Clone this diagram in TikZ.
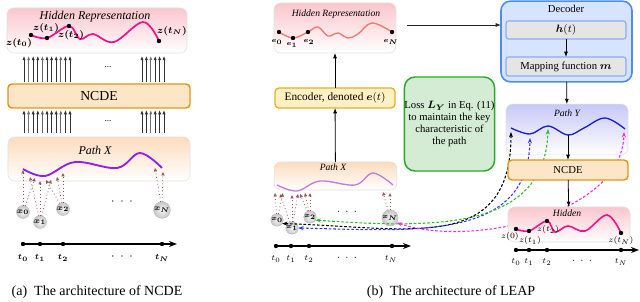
\documentclass[tikz,border=0pt]{standalone}
\usepackage{amsmath}
\usepackage{fontspec}
\setmainfont{Liberation Serif}
\usetikzlibrary{arrows.meta}

\definecolor{hotpink}{RGB}{238,20,140}
\definecolor{pinktop}{RGB}{250,198,205}
\definecolor{peachtop}{RGB}{252,220,190}
\definecolor{lavtop}{RGB}{200,200,248}
\definecolor{violetc}{RGB}{150,30,230}
\definecolor{lilac}{RGB}{195,125,220}
\definecolor{salmonc}{RGB}{240,120,110}
\definecolor{ncdefill}{RGB}{253,229,199}
\definecolor{ncdedraw}{RGB}{225,150,25}
\definecolor{encfill}{RGB}{255,241,195}
\definecolor{encdraw}{RGB}{225,175,45}
\definecolor{decfill}{RGB}{214,228,255}
\definecolor{decdraw}{RGB}{80,140,240}
\definecolor{indraw}{RGB}{135,175,240}
\definecolor{greenfill}{RGB}{212,236,212}
\definecolor{greendraw}{RGB}{40,170,40}
\definecolor{brownc}{RGB}{150,85,85}
\definecolor{pathblue}{RGB}{30,30,200}
\definecolor{dblue}{RGB}{50,50,230}
\definecolor{dgreen}{RGB}{40,190,40}
\definecolor{dmag}{RGB}{240,40,240}

\begin{document}
\begin{tikzpicture}[x=0.75pt,y=-0.75pt,
  every node/.style={inner sep=0pt, outer sep=0pt},
  softbox/.style={rounded corners=5pt, draw=black!12, line width=0.4pt},
  pinkbox/.style={softbox, top color=pinktop, bottom color=white},
  peachbox/.style={softbox, top color=peachtop, bottom color=white},
  lavbox/.style={softbox, top color=lavtop, bottom color=white},
  ncdebox/.style={rounded corners=3pt, draw=ncdedraw, line width=1.1pt, fill=ncdefill},
  encbox/.style={rounded corners=3pt, draw=encdraw, line width=1pt, fill=encfill},
  decbox/.style={rounded corners=7pt, draw=decdraw, line width=1.2pt, fill=decfill},
  innerbox/.style={rounded corners=2pt, draw=indraw, line width=0.9pt, fill=black!10},
  lossbox/.style={rounded corners=8pt, draw=greendraw, line width=1.1pt, fill=greenfill},
  upar/.style={-{Latex[length=3.2pt,width=2.4pt]}, line width=0.55pt},
  arr/.style={-{Latex[length=4pt,width=3pt]}, line width=0.6pt, black},
  dotar/.style={dotted, line width=0.6pt, brownc, -{Triangle[open,length=2.6pt,width=2.4pt]}},
  xnode/.style={circle, minimum size=9pt, inner color=gray!6, outer color=gray!45, draw=gray!55, line width=0.3pt, font=\fontsize{6.5}{6.5}\selectfont},
  xsmall/.style={xnode, minimum size=7.5pt, font=\fontsize{5.5}{5.5}\selectfont},
  dot/.style={circle, fill=black, minimum size=3.3pt},
  axisline/.style={line width=1.1pt, -{Stealth[length=6pt,width=4.5pt]}},
  dasharr/.style={{Stealth[length=4pt,width=3pt]}-{Stealth[length=4pt,width=3pt]}, dash pattern=on 2pt off 1.4pt, line width=0.8pt},
  tlab/.style={font=\fontsize{6.5}{6.5}\selectfont},
  zlab/.style={font=\fontsize{6.6}{6.6}\selectfont},
  zsmall/.style={font=\fontsize{6}{6}\selectfont},
  title/.style={font=\fontsize{9}{9}\selectfont\itshape},
  stitle/.style={font=\fontsize{7.2}{7.2}\selectfont\itshape}
]
\useasboundingbox (0,0) rectangle (640,302);

%================ Panel (a) ================
\node[pinkbox, minimum width=135pt, minimum height=33.75pt] (hidA) at (97,30.5) {};
\node[title] (hidAt) at (95,17) {Hidden Representation};
\draw[hotpink, line width=1.3pt] plot[smooth, tension=0.6] coordinates {(31,35) (47,38) (69,26) (80,39) (93,34) (114,42) (143,22) (159,41)};
\node[dot] (za0) at (31,35) {};
\node[dot] (za1) at (47,38) {};
\node[dot] (za2) at (69,26) {};
\node[dot] (zaN) at (159,41) {};
\node[zlab] (lza0) at (19,43) {$\boldsymbol{z(t_0)}$};
\node[zlab] (lza1) at (46,28) {$\boldsymbol{z(t_1)}$};
\node[zlab] (lza2) at (71,35) {$\boldsymbol{z(t_2)}$};
\node[zlab] (lzaN) at (172,31) {$\boldsymbol{z(t_N)}$};

\node[ncdebox, minimum width=136.5pt, minimum height=18pt, font=\fontsize{10.3}{10.3}\selectfont] (ncdeA) at (99,96) {NCDE};

\node[peachbox, minimum width=136.5pt, minimum height=33pt] (pathXA) at (99,159) {};
\node[title] (pathXAt) at (95,150) {Path X};

% arrow bundles
\foreach \x/\c in {24/80,28.6/55,33.2/80,37.8/80,42.4/60,47/80,51.6/80,56.2/80,60.8/60,65.4/80,70/80,142/80,146.4/80,150.8/55,155.2/80,159.6/80,164/80}{
  \coordinate (cc) at (\x,0);
  \draw[upar, black!\c, shorten <=1.5pt, shorten >=2.2pt] (ncdeA.north -| cc) -- (hidA.south -| cc);
  \draw[upar, black!\c, shorten <=3pt, shorten >=1.5pt] (pathXA.north -| cc) -- (ncdeA.south -| cc);
}
\node[font=\fontsize{7}{7}\selectfont] (ddA1) at (108,67) {...};
\node[font=\fontsize{7}{7}\selectfont] (ddA2) at (108,121) {...};

\draw[violetc, line width=1.4pt] plot[smooth, tension=0.6] coordinates {(23,169) (45,176) (75,162) (117,168) (140,153) (162,168)};

\node[xnode] (xa0) at (23,212) {$\boldsymbol{x_0}$};
\node[xnode] (xa1) at (40,222) {$\boldsymbol{x_1}$};
\node[xnode] (xa2) at (63,209) {$\boldsymbol{x_2}$};
\node[xnode] (xaN) at (162,210) {$\boldsymbol{x_N}$};
\node[font=\fontsize{9}{9}\selectfont] (ddA3) at (122,202) {$\cdot\ \cdot\ \cdot$};

\coordinate (pa1) at (23,170); \coordinate (pa2) at (35,178);
\coordinate (pa3) at (30,177); \coordinate (pa4) at (40,181); \coordinate (pa5) at (51,180);
\coordinate (pa6) at (46,180); \coordinate (pa7) at (57,177); \coordinate (pa8) at (63,173);
\coordinate (pa9) at (155,168); \coordinate (pa10) at (163,172);
\draw[dotar] (xa0) -- (pa1);
\draw[dotar] (xa0) -- (pa2);
\draw[dotar] (xa1) -- (pa3);
\draw[dotar] (xa1) -- (pa4);
\draw[dotar] (xa1) -- (pa5);
\draw[dotar] (xa2) -- (pa6);
\draw[dotar] (xa2) -- (pa7);
\draw[dotar] (xa2) -- (pa8);
\draw[dotar] (xaN) -- (pa9);
\draw[dotar] (xaN) -- (pa10);

\coordinate (taS) at (21,244); \coordinate (taE) at (177,244);
\draw[axisline] (taS) -- (taE);
\node[dot] (ta0) at (23,244) {};
\node[dot] (ta1) at (40,244) {};
\node[dot] (ta2) at (63,244) {};
\node[dot] (taN) at (162,244) {};
\node[tlab] (lta0) at (23,258) {$\boldsymbol{t_0}$};
\node[tlab] (lta1) at (40,258) {$\boldsymbol{t_1}$};
\node[tlab] (lta2) at (63,258) {$\boldsymbol{t_2}$};
\node[tlab] (ltaN) at (162,258) {$\boldsymbol{t_N}$};
\node[font=\fontsize{9}{9}\selectfont] (ddA4) at (122,257) {$\cdot\ \cdot\ \cdot$};

\node[font=\fontsize{10.5}{10.5}\selectfont] (capA) at (97,292) {(a)\enspace The architecture of NCDE};

%================ Panel (b) ================
\node[pinkbox, minimum width=91.5pt, minimum height=37.5pt] (hidB) at (335,28) {};
\node[stitle] (hidBt) at (336,14) {Hidden Representation};
\draw[salmonc, line width=1pt] plot[smooth, tension=0.6] coordinates {(279,32) (293,38) (308,32) (318,27) (328,36) (338,33) (348,38) (358,34) (372,23) (392,32)};
\node[dot] (e0) at (279,32) {};
\node[dot] (e1) at (293,38) {};
\node[dot] (e2) at (308,32) {};
\node[dot] (eN) at (392,32) {};
\node[font=\fontsize{5.5}{5.5}\selectfont] (le0) at (277,42) {$\boldsymbol{e_0}$};
\node[font=\fontsize{5.5}{5.5}\selectfont] (le1) at (292,45) {$\boldsymbol{e_1}$};
\node[font=\fontsize{5.5}{5.5}\selectfont] (le2) at (309,42) {$\boldsymbol{e_2}$};
\node[font=\fontsize{5.5}{5.5}\selectfont] (leN) at (391,42) {$\boldsymbol{e_N}$};

\node[encbox, minimum width=90pt, minimum height=15pt, font=\fontsize{8.5}{8.5}\selectfont] (encB) at (335,98) {Encoder, denoted $\boldsymbol{e}(t)$};

\node[peachbox, minimum width=92pt, minimum height=21pt] (pathXB) at (335.5,176) {};
\node[stitle] (pathXBt) at (333,167) {Path X};
\draw[lilac, line width=1pt] plot[smooth, tension=0.6] coordinates {(277,185) (297,191) (320,181) (355,185) (373,173) (393,185)};

\draw[arr] (encB) -- (hidB);
\draw[arr] (pathXB) -- (encB);

\node[lossbox, minimum width=65.25pt, minimum height=70.5pt, align=center, font=\fontsize{8}{9}\selectfont] (lossB) at (449.5,124) {Loss $\boldsymbol{L_Y}$ in Eq. (11)\\to maintain the key\\characteristic of\\the path};

\node[decbox, minimum width=98.25pt, minimum height=60.5pt] (decB) at (566.5,41.5) {};
\node[font=\fontsize{8}{8}\selectfont] (decBt) at (566,9) {Decoder};
\node[innerbox, minimum width=90pt, minimum height=13.5pt, font=\fontsize{8}{8}\selectfont] (htB) at (566,30) {$\boldsymbol{h}(t)$};
\node[innerbox, minimum width=90pt, minimum height=14.25pt, font=\fontsize{8}{8}\selectfont] (mapB) at (566,66.5) {Mapping function $\boldsymbol{m}$};
\draw[arr] (htB) -- (mapB);
\coordinate (hd) at (407,25);
\draw[arr, black!85] (hd) -- (hd -| decB.west);

\node[lavbox, minimum width=91.5pt, minimum height=38pt] (pathYB) at (567,129.5) {};
\node[stitle] (pathYBt) at (567,113) {Path Y};
\draw[pathblue, line width=1pt] plot[smooth, tension=0.6] coordinates {(511,128) (530,134) (548,126) (568,135) (584,128) (605,118) (625,129)};
\draw[arr] (decB) -- (pathYB);

% x nodes of panel (b)
\node[xsmall] (xb0) at (277,220) {$\boldsymbol{x_0}$};
\node[xsmall] (xb1) at (292,228) {$\boldsymbol{x_1}$};
\node[xsmall] (xb2) at (310,217) {$\boldsymbol{x_2}$};
\node[xsmall] (xbN) at (390,218) {$\boldsymbol{x_N}$};
\node[font=\fontsize{8}{8}\selectfont] (ddB1) at (347,212) {$\cdot\ \cdot\ \cdot$};

\coordinate (pb1) at (275,193); \coordinate (pb2) at (283,193);
\coordinate (pb3) at (280,194); \coordinate (pb4) at (292,195); \coordinate (pb5) at (298,194);
\coordinate (pb6) at (300,194); \coordinate (pb7) at (305,193); \coordinate (pb8) at (310,193);
\coordinate (pb9) at (383,192); \coordinate (pb10) at (390,193);
\draw[dotar] (xb0) -- (pb1);
\draw[dotar] (xb0) -- (pb2);
\draw[dotar] (xb1) -- (pb3);
\draw[dotar] (xb1) -- (pb4);
\draw[dotar] (xb1) -- (pb5);
\draw[dotar] (xb2) -- (pb6);
\draw[dotar] (xb2) -- (pb7);
\draw[dotar] (xb2) -- (pb8);
\draw[dotar] (xbN) -- (pb9);
\draw[dotar] (xbN) -- (pb10);

\coordinate (tbS) at (274,246); \coordinate (tbE) at (411,246);
\draw[axisline] (tbS) -- (tbE);
\node[dot] (tb0) at (276,246) {};
\node[dot] (tb1) at (291,246) {};
\node[dot] (tb2) at (309,246) {};
\node[dot] (tbN) at (392,246) {};
\node[tlab] (ltb0) at (276,259) {$t_0$};
\node[tlab] (ltb1) at (291,259) {$t_1$};
\node[tlab] (ltb2) at (309,259) {$t_2$};
\node[tlab] (ltbN) at (391,259) {$t_N$};
\node[font=\fontsize{8}{8}\selectfont] (ddB2) at (347,258) {$\cdot\ \cdot\ \cdot$};

% colored two-way dashed arrows
\coordinate (py0) at (511,132);
\coordinate (py1) at (530,138);
\coordinate (py2) at (548,129);
\coordinate (pyN) at (624,132);
\draw[dasharr, black] (xb0.-35) .. controls (408,227) and (511,255) .. (py0);
\draw[dasharr, dblue] (xb1.east) .. controls (420,231) and (528,240) .. (py1);
\draw[dasharr, dgreen] (xb2.-30) .. controls (430,228) and (545,232) .. (py2);
\draw[dasharr, dmag] (xbN.-35) .. controls (470,248) and (622,215) .. (pyN);

\node[ncdebox, minimum width=90pt, minimum height=15pt, font=\fontsize{8}{8}\selectfont] (ncdeB) at (568,170) {NCDE};
\coordinate (pyc) at (568,135);
\draw[arr] (pyc) -- (ncdeB.north);

\node[pinkbox, minimum width=91.5pt, minimum height=26.25pt] (hidB2) at (569,224.5) {};
\node[stitle] (hidB2t) at (567,213) {Hidden};
\draw[arr] (ncdeB) -- (hidB2);
\draw[hotpink, line width=1.2pt] plot[smooth, tension=0.6] coordinates {(516,229) (529,231) (547,221) (555,232) (568,226) (585,231) (607,215) (621,233)};
\node[dot] (zb0) at (516,229) {};
\node[dot] (zb1) at (529,231) {};
\node[dot] (zb2) at (547,221) {};
\node[dot] (zbN) at (621,233) {};
\node[zsmall] (lzb0) at (510,237) {$z(0)$};
\node[zsmall] (lzb1) at (530,241) {$z(t_1)$};
\node[zsmall] (lzb2) at (548,230) {$z(t_2)$};
\node[zsmall] (lzbN) at (621,241) {$z(t_N)$};

\coordinate (tcS) at (515,250); \coordinate (tcE) at (639,250);
\draw[axisline] (tcS) -- (tcE);
\node[dot] (tc0) at (516,250) {};
\node[dot] (tc1) at (529,250) {};
\node[dot] (tc2) at (547,250) {};
\node[dot] (tcN) at (621,250) {};
\node[tlab] (ltc0) at (516,262) {$t_0$};
\node[tlab] (ltc1) at (529,262) {$t_1$};
\node[tlab] (ltc2) at (547,262) {$t_2$};
\node[tlab] (ltcN) at (621,262) {$t_N$};
\node[font=\fontsize{8}{8}\selectfont] (ddC) at (582,261) {$\cdot\ \cdot\ \cdot$};

\node[font=\fontsize{10.5}{10.5}\selectfont] (capB) at (451,292) {(b)\enspace The architecture of LEAP};
\end{tikzpicture}
\end{document}
